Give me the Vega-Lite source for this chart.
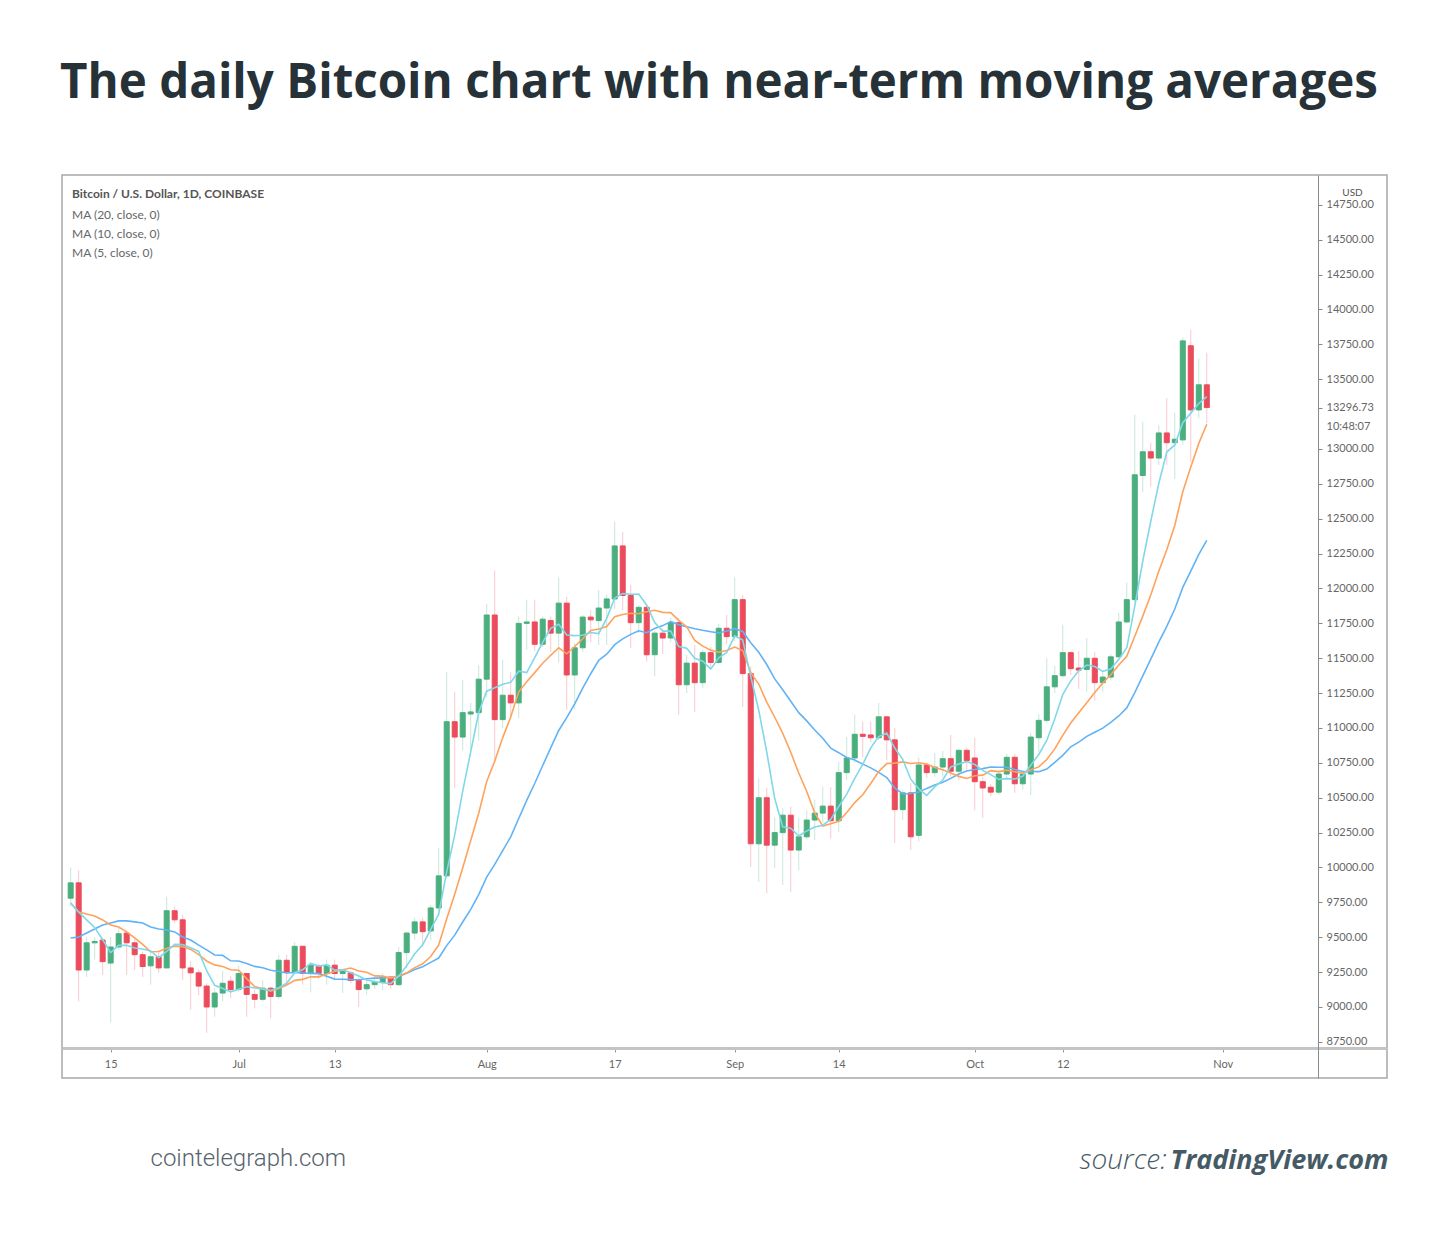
{
  "$schema": "https://vega.github.io/schema/vega-lite/v6.json",
  "description": "The daily Bitcoin chart with near-term moving averages (candles plus MA 5, 10, 20).",
  "width": 1325,
  "height": 903,
  "autosize": {"type": "none"},
  "padding": {"left": 62, "top": 175, "right": 63, "bottom": 160},
  "background": "white",
  "title": {
    "text": "The daily Bitcoin chart with near-term moving averages",
    "anchor": "start",
    "frame": "group",
    "offset": 30,
    "baseline": "alphabetic",
    "dx": -2,
    "font": "Open Sans",
    "fontSize": 47.5,
    "fontWeight": "bold",
    "color": "#263238"
  },
  "data": {
    "values": [
      {"date": "2020-06-10", "open": 9780, "high": 10000, "low": 9720, "close": 9890, "ma5": 9745, "ma10": 9745, "ma20": 9495},
      {"date": "2020-06-11", "open": 9890, "high": 9980, "low": 9040, "close": 9265, "ma5": 9680, "ma10": 9681, "ma20": 9502},
      {"date": "2020-06-12", "open": 9265, "high": 9500, "low": 9215, "close": 9460, "ma5": 9625, "ma10": 9667, "ma20": 9530},
      {"date": "2020-06-13", "open": 9460, "high": 9500, "low": 9340, "close": 9470, "ma5": 9570, "ma10": 9652, "ma20": 9559},
      {"date": "2020-06-14", "open": 9480, "high": 9495, "low": 9230, "close": 9325, "ma5": 9482, "ma10": 9624, "ma20": 9588},
      {"date": "2020-06-15", "open": 9315, "high": 9500, "low": 8890, "close": 9430, "ma5": 9390, "ma10": 9588, "ma20": 9602},
      {"date": "2020-06-16", "open": 9430, "high": 9565, "low": 9410, "close": 9525, "ma5": 9442, "ma10": 9573, "ma20": 9617},
      {"date": "2020-06-17", "open": 9530, "high": 9550, "low": 9230, "close": 9460, "ma5": 9442, "ma10": 9538, "ma20": 9617},
      {"date": "2020-06-18", "open": 9460, "high": 9500, "low": 9265, "close": 9375, "ma5": 9423, "ma10": 9495, "ma20": 9610},
      {"date": "2020-06-19", "open": 9375, "high": 9395, "low": 9215, "close": 9290, "ma5": 9416, "ma10": 9449, "ma20": 9602},
      {"date": "2020-06-20", "open": 9295, "high": 9410, "low": 9160, "close": 9360, "ma5": 9402, "ma10": 9396, "ma20": 9573},
      {"date": "2020-06-21", "open": 9360, "high": 9395, "low": 9245, "close": 9280, "ma5": 9353, "ma10": 9398, "ma20": 9559},
      {"date": "2020-06-22", "open": 9280, "high": 9790, "low": 9280, "close": 9690, "ma5": 9399, "ma10": 9421, "ma20": 9552},
      {"date": "2020-06-23", "open": 9690, "high": 9720, "low": 9600, "close": 9625, "ma5": 9449, "ma10": 9436, "ma20": 9538},
      {"date": "2020-06-24", "open": 9625, "high": 9660, "low": 9195, "close": 9280, "ma5": 9447, "ma10": 9432, "ma20": 9502},
      {"date": "2020-06-25", "open": 9280, "high": 9330, "low": 8980, "close": 9245, "ma5": 9424, "ma10": 9413, "ma20": 9480},
      {"date": "2020-06-26", "open": 9245, "high": 9270, "low": 9085, "close": 9150, "ma5": 9398, "ma10": 9376, "ma20": 9444},
      {"date": "2020-06-27", "open": 9150, "high": 9170, "low": 8815, "close": 9000, "ma5": 9260, "ma10": 9330, "ma20": 9409},
      {"date": "2020-06-28", "open": 9000, "high": 9135, "low": 8930, "close": 9100, "ma5": 9155, "ma10": 9302, "ma20": 9373},
      {"date": "2020-06-29", "open": 9100, "high": 9260, "low": 9040, "close": 9170, "ma5": 9133, "ma10": 9290, "ma20": 9370},
      {"date": "2020-06-30", "open": 9185, "high": 9220, "low": 9065, "close": 9125, "ma5": 9109, "ma10": 9267, "ma20": 9331},
      {"date": "2020-07-01", "open": 9125, "high": 9295, "low": 9110, "close": 9240, "ma5": 9127, "ma10": 9263, "ma20": 9330},
      {"date": "2020-07-02", "open": 9240, "high": 9245, "low": 8930, "close": 9090, "ma5": 9145, "ma10": 9203, "ma20": 9312},
      {"date": "2020-07-03", "open": 9090, "high": 9125, "low": 8990, "close": 9055, "ma5": 9136, "ma10": 9146, "ma20": 9291},
      {"date": "2020-07-04", "open": 9055, "high": 9190, "low": 9040, "close": 9135, "ma5": 9129, "ma10": 9131, "ma20": 9281},
      {"date": "2020-07-05", "open": 9135, "high": 9145, "low": 8920, "close": 9075, "ma5": 9119, "ma10": 9114, "ma20": 9264},
      {"date": "2020-07-06", "open": 9075, "high": 9375, "low": 9055, "close": 9335, "ma5": 9138, "ma10": 9133, "ma20": 9254},
      {"date": "2020-07-07", "open": 9335, "high": 9375, "low": 9160, "close": 9250, "ma5": 9170, "ma10": 9158, "ma20": 9244},
      {"date": "2020-07-08", "open": 9250, "high": 9465, "low": 9245, "close": 9435, "ma5": 9246, "ma10": 9191, "ma20": 9247},
      {"date": "2020-07-09", "open": 9435, "high": 9440, "low": 9160, "close": 9240, "ma5": 9267, "ma10": 9198, "ma20": 9244},
      {"date": "2020-07-10", "open": 9240, "high": 9320, "low": 9105, "close": 9300, "ma5": 9312, "ma10": 9216, "ma20": 9241},
      {"date": "2020-07-11", "open": 9295, "high": 9310, "low": 9200, "close": 9240, "ma5": 9293, "ma10": 9216, "ma20": 9239},
      {"date": "2020-07-12", "open": 9240, "high": 9340, "low": 9160, "close": 9300, "ma5": 9303, "ma10": 9237, "ma20": 9220},
      {"date": "2020-07-13", "open": 9300, "high": 9340, "low": 9200, "close": 9240, "ma5": 9264, "ma10": 9255, "ma20": 9200},
      {"date": "2020-07-14", "open": 9240, "high": 9275, "low": 9100, "close": 9255, "ma5": 9267, "ma10": 9267, "ma20": 9199},
      {"date": "2020-07-15", "open": 9245, "high": 9260, "low": 9170, "close": 9190, "ma5": 9245, "ma10": 9279, "ma20": 9196},
      {"date": "2020-07-16", "open": 9190, "high": 9210, "low": 9000, "close": 9125, "ma5": 9222, "ma10": 9258, "ma20": 9195},
      {"date": "2020-07-17", "open": 9130, "high": 9190, "low": 9090, "close": 9160, "ma5": 9194, "ma10": 9249, "ma20": 9203},
      {"date": "2020-07-18", "open": 9160, "high": 9210, "low": 9130, "close": 9180, "ma5": 9182, "ma10": 9223, "ma20": 9207},
      {"date": "2020-07-19", "open": 9175, "high": 9240, "low": 9120, "close": 9215, "ma5": 9174, "ma10": 9221, "ma20": 9209},
      {"date": "2020-07-20", "open": 9215, "high": 9220, "low": 9130, "close": 9160, "ma5": 9168, "ma10": 9207, "ma20": 9211},
      {"date": "2020-07-21", "open": 9160, "high": 9430, "low": 9150, "close": 9390, "ma5": 9221, "ma10": 9222, "ma20": 9219},
      {"date": "2020-07-22", "open": 9390, "high": 9540, "low": 9280, "close": 9530, "ma5": 9295, "ma10": 9245, "ma20": 9241},
      {"date": "2020-07-23", "open": 9530, "high": 9640, "low": 9480, "close": 9610, "ma5": 9381, "ma10": 9282, "ma20": 9268},
      {"date": "2020-07-24", "open": 9610, "high": 9640, "low": 9430, "close": 9540, "ma5": 9446, "ma10": 9310, "ma20": 9289},
      {"date": "2020-07-25", "open": 9545, "high": 9730, "low": 9480, "close": 9710, "ma5": 9556, "ma10": 9362, "ma20": 9320},
      {"date": "2020-07-26", "open": 9710, "high": 10140, "low": 9650, "close": 9940, "ma5": 9666, "ma10": 9444, "ma20": 9351},
      {"date": "2020-07-27", "open": 9940, "high": 11400, "low": 9920, "close": 11045, "ma5": 9969, "ma10": 9632, "ma20": 9440},
      {"date": "2020-07-28", "open": 11045, "high": 11260, "low": 10570, "close": 10935, "ma5": 10234, "ma10": 9808, "ma20": 9515},
      {"date": "2020-07-29", "open": 10935, "high": 11345, "low": 10840, "close": 11110, "ma5": 10548, "ma10": 9997, "ma20": 9609},
      {"date": "2020-07-30", "open": 11100, "high": 11180, "low": 10850, "close": 11115, "ma5": 10829, "ma10": 10193, "ma20": 9700},
      {"date": "2020-07-31", "open": 11110, "high": 11450, "low": 10910, "close": 11350, "ma5": 11111, "ma10": 10389, "ma20": 9805},
      {"date": "2020-08-01", "open": 11350, "high": 11890, "low": 11220, "close": 11810, "ma5": 11264, "ma10": 10617, "ma20": 9931},
      {"date": "2020-08-02", "open": 11810, "high": 12130, "low": 10750, "close": 11060, "ma5": 11289, "ma10": 10762, "ma20": 10022},
      {"date": "2020-08-03", "open": 11060, "high": 11490, "low": 11000, "close": 11235, "ma5": 11314, "ma10": 10931, "ma20": 10121},
      {"date": "2020-08-04", "open": 11235, "high": 11400, "low": 11080, "close": 11180, "ma5": 11327, "ma10": 11078, "ma20": 10220},
      {"date": "2020-08-05", "open": 11180, "high": 11800, "low": 11070, "close": 11750, "ma5": 11407, "ma10": 11259, "ma20": 10351},
      {"date": "2020-08-06", "open": 11750, "high": 11920, "low": 11560, "close": 11760, "ma5": 11397, "ma10": 11331, "ma20": 10481},
      {"date": "2020-08-07", "open": 11760, "high": 11920, "low": 11550, "close": 11600, "ma5": 11505, "ma10": 11397, "ma20": 10602},
      {"date": "2020-08-08", "open": 11600, "high": 11800, "low": 11580, "close": 11780, "ma5": 11614, "ma10": 11464, "ma20": 10731},
      {"date": "2020-08-09", "open": 11770, "high": 11800, "low": 11545, "close": 11680, "ma5": 11714, "ma10": 11521, "ma20": 10857},
      {"date": "2020-08-10", "open": 11680, "high": 12080, "low": 11470, "close": 11895, "ma5": 11743, "ma10": 11575, "ma20": 10982},
      {"date": "2020-08-11", "open": 11895, "high": 11940, "low": 11130, "close": 11380, "ma5": 11667, "ma10": 11532, "ma20": 11074},
      {"date": "2020-08-12", "open": 11380, "high": 11610, "low": 11130, "close": 11575, "ma5": 11662, "ma10": 11584, "ma20": 11173},
      {"date": "2020-08-13", "open": 11575, "high": 11810, "low": 11545, "close": 11795, "ma5": 11665, "ma10": 11640, "ma20": 11285},
      {"date": "2020-08-14", "open": 11795, "high": 11845, "low": 11615, "close": 11775, "ma5": 11684, "ma10": 11699, "ma20": 11389},
      {"date": "2020-08-15", "open": 11770, "high": 11990, "low": 11595, "close": 11860, "ma5": 11677, "ma10": 11710, "ma20": 11485},
      {"date": "2020-08-16", "open": 11860, "high": 11955, "low": 11595, "close": 11925, "ma5": 11786, "ma10": 11727, "ma20": 11529},
      {"date": "2020-08-17", "open": 11925, "high": 12480, "low": 11855, "close": 12305, "ma5": 11932, "ma10": 11797, "ma20": 11597},
      {"date": "2020-08-18", "open": 12305, "high": 12405, "low": 11845, "close": 11950, "ma5": 11963, "ma10": 11814, "ma20": 11639},
      {"date": "2020-08-19", "open": 11950, "high": 12025, "low": 11575, "close": 11755, "ma5": 11959, "ma10": 11822, "ma20": 11671},
      {"date": "2020-08-20", "open": 11755, "high": 11880, "low": 11680, "close": 11865, "ma5": 11960, "ma10": 11819, "ma20": 11697},
      {"date": "2020-08-21", "open": 11865, "high": 11880, "low": 11475, "close": 11525, "ma5": 11880, "ma10": 11833, "ma20": 11683},
      {"date": "2020-08-22", "open": 11525, "high": 11700, "low": 11370, "close": 11680, "ma5": 11755, "ma10": 11844, "ma20": 11714},
      {"date": "2020-08-23", "open": 11680, "high": 11715, "low": 11530, "close": 11645, "ma5": 11694, "ma10": 11829, "ma20": 11734},
      {"date": "2020-08-24", "open": 11645, "high": 11790, "low": 11615, "close": 11755, "ma5": 11694, "ma10": 11827, "ma20": 11763},
      {"date": "2020-08-25", "open": 11755, "high": 11790, "low": 11095, "close": 11310, "ma5": 11583, "ma10": 11772, "ma20": 11741},
      {"date": "2020-08-26", "open": 11310, "high": 11525, "low": 11250, "close": 11465, "ma5": 11571, "ma10": 11726, "ma20": 11726},
      {"date": "2020-08-27", "open": 11465, "high": 11595, "low": 11115, "close": 11325, "ma5": 11500, "ma10": 11628, "ma20": 11712},
      {"date": "2020-08-28", "open": 11325, "high": 11560, "low": 11285, "close": 11540, "ma5": 11479, "ma10": 11587, "ma20": 11700},
      {"date": "2020-08-29", "open": 11540, "high": 11580, "low": 11430, "close": 11470, "ma5": 11422, "ma10": 11558, "ma20": 11690},
      {"date": "2020-08-30", "open": 11470, "high": 11745, "low": 11460, "close": 11715, "ma5": 11503, "ma10": 11543, "ma20": 11681},
      {"date": "2020-08-31", "open": 11715, "high": 11810, "low": 11600, "close": 11655, "ma5": 11541, "ma10": 11556, "ma20": 11695},
      {"date": "2020-09-01", "open": 11655, "high": 12080, "low": 11620, "close": 11920, "ma5": 11660, "ma10": 11580, "ma20": 11712},
      {"date": "2020-09-02", "open": 11920, "high": 11955, "low": 11150, "close": 11390, "ma5": 11630, "ma10": 11555, "ma20": 11692},
      {"date": "2020-09-03", "open": 11390, "high": 11440, "low": 10005, "close": 10170, "ma5": 11370, "ma10": 11396, "ma20": 11611},
      {"date": "2020-09-04", "open": 10170, "high": 10640, "low": 9895, "close": 10500, "ma5": 11127, "ma10": 11315, "ma20": 11543},
      {"date": "2020-09-05", "open": 10500, "high": 10570, "low": 9815, "close": 10160, "ma5": 10828, "ma10": 11185, "ma20": 11455},
      {"date": "2020-09-06", "open": 10160, "high": 10360, "low": 9995, "close": 10250, "ma5": 10494, "ma10": 11077, "ma20": 11352},
      {"date": "2020-09-07", "open": 10250, "high": 10425, "low": 9875, "close": 10375, "ma5": 10291, "ma10": 10961, "ma20": 11274},
      {"date": "2020-09-08", "open": 10375, "high": 10435, "low": 9825, "close": 10125, "ma5": 10282, "ma10": 10826, "ma20": 11192},
      {"date": "2020-09-09", "open": 10125, "high": 10355, "low": 9980, "close": 10220, "ma5": 10226, "ma10": 10677, "ma20": 11110},
      {"date": "2020-09-10", "open": 10220, "high": 10410, "low": 10200, "close": 10340, "ma5": 10262, "ma10": 10545, "ma20": 11051},
      {"date": "2020-09-11", "open": 10340, "high": 10485, "low": 10195, "close": 10390, "ma5": 10290, "ma10": 10392, "ma20": 10986},
      {"date": "2020-09-12", "open": 10390, "high": 10580, "low": 10320, "close": 10440, "ma5": 10303, "ma10": 10297, "ma20": 10926},
      {"date": "2020-09-13", "open": 10440, "high": 10575, "low": 10210, "close": 10335, "ma5": 10345, "ma10": 10314, "ma20": 10855},
      {"date": "2020-09-14", "open": 10335, "high": 10755, "low": 10255, "close": 10680, "ma5": 10437, "ma10": 10332, "ma20": 10823},
      {"date": "2020-09-15", "open": 10680, "high": 10935, "low": 10625, "close": 10785, "ma5": 10526, "ma10": 10394, "ma20": 10789},
      {"date": "2020-09-16", "open": 10785, "high": 11095, "low": 10750, "close": 10955, "ma5": 10639, "ma10": 10465, "ma20": 10771},
      {"date": "2020-09-17", "open": 10955, "high": 11045, "low": 10790, "close": 10940, "ma5": 10739, "ma10": 10521, "ma20": 10741},
      {"date": "2020-09-18", "open": 10950, "high": 11045, "low": 10900, "close": 10930, "ma5": 10858, "ma10": 10602, "ma20": 10714},
      {"date": "2020-09-19", "open": 10930, "high": 11180, "low": 10915, "close": 11080, "ma5": 10938, "ma10": 10688, "ma20": 10682},
      {"date": "2020-09-20", "open": 11080, "high": 11085, "low": 10770, "close": 10915, "ma5": 10964, "ma10": 10745, "ma20": 10645},
      {"date": "2020-09-21", "open": 10915, "high": 11000, "low": 10175, "close": 10415, "ma5": 10856, "ma10": 10748, "ma20": 10570},
      {"date": "2020-09-22", "open": 10415, "high": 10555, "low": 10340, "close": 10535, "ma5": 10775, "ma10": 10757, "ma20": 10527},
      {"date": "2020-09-23", "open": 10535, "high": 10605, "low": 10125, "close": 10220, "ma5": 10633, "ma10": 10746, "ma20": 10530},
      {"date": "2020-09-24", "open": 10230, "high": 10790, "low": 10185, "close": 10735, "ma5": 10564, "ma10": 10751, "ma20": 10541},
      {"date": "2020-09-25", "open": 10735, "high": 10750, "low": 10640, "close": 10680, "ma5": 10517, "ma10": 10741, "ma20": 10567},
      {"date": "2020-09-26", "open": 10680, "high": 10820, "low": 10650, "close": 10720, "ma5": 10578, "ma10": 10717, "ma20": 10591},
      {"date": "2020-09-27", "open": 10720, "high": 10835, "low": 10650, "close": 10780, "ma5": 10627, "ma10": 10701, "ma20": 10611},
      {"date": "2020-09-28", "open": 10780, "high": 10950, "low": 10650, "close": 10690, "ma5": 10721, "ma10": 10677, "ma20": 10639},
      {"date": "2020-09-29", "open": 10690, "high": 10845, "low": 10625, "close": 10840, "ma5": 10742, "ma10": 10653, "ma20": 10670},
      {"date": "2020-09-30", "open": 10840, "high": 10860, "low": 10700, "close": 10765, "ma5": 10759, "ma10": 10638, "ma20": 10692},
      {"date": "2020-10-01", "open": 10785, "high": 10930, "low": 10410, "close": 10615, "ma5": 10738, "ma10": 10658, "ma20": 10703},
      {"date": "2020-10-02", "open": 10615, "high": 10650, "low": 10355, "close": 10570, "ma5": 10696, "ma10": 10662, "ma20": 10709},
      {"date": "2020-10-03", "open": 10575, "high": 10600, "low": 10510, "close": 10540, "ma5": 10666, "ma10": 10694, "ma20": 10720},
      {"date": "2020-10-04", "open": 10540, "high": 10690, "low": 10520, "close": 10670, "ma5": 10632, "ma10": 10687, "ma20": 10719},
      {"date": "2020-10-05", "open": 10670, "high": 10815, "low": 10630, "close": 10790, "ma5": 10637, "ma10": 10698, "ma20": 10719},
      {"date": "2020-10-06", "open": 10790, "high": 10815, "low": 10535, "close": 10600, "ma5": 10634, "ma10": 10686, "ma20": 10702},
      {"date": "2020-10-07", "open": 10600, "high": 10690, "low": 10560, "close": 10670, "ma5": 10654, "ma10": 10675, "ma20": 10688},
      {"date": "2020-10-08", "open": 10670, "high": 10965, "low": 10520, "close": 10935, "ma5": 10733, "ma10": 10700, "ma20": 10688},
      {"date": "2020-10-09", "open": 10930, "high": 11100, "low": 10830, "close": 11055, "ma5": 10810, "ma10": 10721, "ma20": 10687},
      {"date": "2020-10-10", "open": 11055, "high": 11500, "low": 11035, "close": 11295, "ma5": 10911, "ma10": 10774, "ma20": 10706},
      {"date": "2020-10-11", "open": 11295, "high": 11445, "low": 11250, "close": 11375, "ma5": 11066, "ma10": 10850, "ma20": 10754},
      {"date": "2020-10-12", "open": 11375, "high": 11740, "low": 11365, "close": 11540, "ma5": 11240, "ma10": 10947, "ma20": 10804},
      {"date": "2020-10-13", "open": 11540, "high": 11550, "low": 11380, "close": 11425, "ma5": 11338, "ma10": 11036, "ma20": 10865},
      {"date": "2020-10-14", "open": 11430, "high": 11550, "low": 11280, "close": 11415, "ma5": 11410, "ma10": 11110, "ma20": 10899},
      {"date": "2020-10-15", "open": 11420, "high": 11645, "low": 11260, "close": 11500, "ma5": 11451, "ma10": 11181, "ma20": 10940},
      {"date": "2020-10-16", "open": 11500, "high": 11545, "low": 11195, "close": 11325, "ma5": 11441, "ma10": 11254, "ma20": 10970},
      {"date": "2020-10-17", "open": 11325, "high": 11400, "low": 11260, "close": 11365, "ma5": 11406, "ma10": 11323, "ma20": 10999},
      {"date": "2020-10-18", "open": 11365, "high": 11530, "low": 11340, "close": 11510, "ma5": 11423, "ma10": 11381, "ma20": 11040},
      {"date": "2020-10-19", "open": 11510, "high": 11825, "low": 11500, "close": 11760, "ma5": 11492, "ma10": 11451, "ma20": 11086},
      {"date": "2020-10-20", "open": 11760, "high": 12045, "low": 11750, "close": 11920, "ma5": 11576, "ma10": 11514, "ma20": 11144},
      {"date": "2020-10-21", "open": 11920, "high": 13245, "low": 11900, "close": 12815, "ma5": 11874, "ma10": 11658, "ma20": 11254},
      {"date": "2020-10-22", "open": 12810, "high": 13195, "low": 12690, "close": 12980, "ma5": 12197, "ma10": 11802, "ma20": 11374},
      {"date": "2020-10-23", "open": 12980, "high": 13045, "low": 12730, "close": 12935, "ma5": 12482, "ma10": 11953, "ma20": 11494},
      {"date": "2020-10-24", "open": 12935, "high": 13170, "low": 12885, "close": 13115, "ma5": 12753, "ma10": 12123, "ma20": 11616},
      {"date": "2020-10-25", "open": 13115, "high": 13365, "low": 12885, "close": 13045, "ma5": 12978, "ma10": 12277, "ma20": 11729},
      {"date": "2020-10-26", "open": 13045, "high": 13260, "low": 12785, "close": 13070, "ma5": 13029, "ma10": 12452, "ma20": 11853},
      {"date": "2020-10-27", "open": 13065, "high": 13800, "low": 13030, "close": 13775, "ma5": 13188, "ma10": 12693, "ma20": 12008},
      {"date": "2020-10-28", "open": 13740, "high": 13855, "low": 12905, "close": 13280, "ma5": 13257, "ma10": 12870, "ma20": 12125},
      {"date": "2020-10-29", "open": 13280, "high": 13650, "low": 13220, "close": 13460, "ma5": 13326, "ma10": 13040, "ma20": 12245},
      {"date": "2020-10-30", "open": 13460, "high": 13690, "low": 13185, "close": 13296.73, "ma5": 13376, "ma10": 13177, "ma20": 12345}
    ]
  },
  "resolve": {"axis": {"x": "independent", "y": "independent"}},
  "layer": [
    {
      "mark": {"type": "rule", "strokeWidth": 1, "opacity": 0.3},
      "encoding": {
        "x": {
          "field": "date",
          "type": "temporal",
          "scale": {"type": "utc", "domain": [{"year": 2020, "month": 6, "date": 9, "hours": 13, "utc": true}, {"year": 2020, "month": 11, "date": 20, "hours": 21, "minutes": 36, "utc": true}]},
          "axis": {
            "orient": "bottom",
            "offset": -30,
            "grid": false,
            "values": [
              {"year": 2020, "month": 6, "date": 15, "utc": true},
              {"year": 2020, "month": 7, "date": 1, "utc": true},
              {"year": 2020, "month": 7, "date": 13, "utc": true},
              {"year": 2020, "month": 8, "date": 1, "utc": true},
              {"year": 2020, "month": 8, "date": 17, "utc": true},
              {"year": 2020, "month": 9, "date": 1, "utc": true},
              {"year": 2020, "month": 9, "date": 14, "utc": true},
              {"year": 2020, "month": 10, "date": 1, "utc": true},
              {"year": 2020, "month": 10, "date": 12, "utc": true},
              {"year": 2020, "month": 11, "date": 1, "utc": true}
            ],
            "labelExpr": "utcdate(datum.value) == 1 ? utcFormat(datum.value, '%b') : '' + utcdate(datum.value)",
            "labelFont": "Lato",
            "labelFontSize": 11,
            "labelColor": "#666666",
            "labelPadding": 6,
            "labelOverlap": false,
            "labelFlush": false,
            "tickSize": 4,
            "tickColor": "#999999",
            "domainColor": "#c4c4c4",
            "domainWidth": 3,
            "title": "cointelegraph.com",
            "titleX": 88,
            "titleY": 117,
            "titleAlign": "left",
            "titleBaseline": "alphabetic",
            "titleFont": "Roboto",
            "titleFontSize": 24,
            "titleFontWeight": 300,
            "titleColor": "#56636b"
          }
        },
        "y": {
          "field": "low",
          "type": "quantitative",
          "scale": {"domain": [8491, 14964], "zero": false, "nice": false},
          "axis": {
            "orient": "right",
            "offset": -69,
            "grid": false,
            "values": [8750, 9000, 9250, 9500, 9750, 10000, 10250, 10500, 10750, 11000, 11250, 11500, 11750, 12000, 12250, 12500, 12750, 13000, 13296.73, 13500, 13750, 14000, 14250, 14500, 14750],
            "labelExpr": "datum.value == 13296.73 ? ['13296.73', '10:48:07'] : format(datum.value, '.2f')",
            "labelFont": "Lato",
            "labelFontSize": 11,
            "labelColor": "#666666",
            "labelPadding": 4,
            "labelBaseline": "top",
            "labelOffset": -6,
            "labelLineHeight": 19,
            "labelOverlap": false,
            "labelBound": false,
            "labelFlush": false,
            "tickSize": 4,
            "tickColor": "#888888",
            "domainColor": "#8a8a8a",
            "domainWidth": 1,
            "title": "USD",
            "titleAngle": 0,
            "titleX": 34,
            "titleY": 17,
            "titleAlign": "center",
            "titleBaseline": "middle",
            "titleFont": "Lato",
            "titleFontSize": 10,
            "titleFontWeight": "normal",
            "titleColor": "#555555"
          }
        },
        "y2": {"field": "high"},
        "color": {"condition": {"test": "datum.close >= datum.open", "value": "#4bae7f"}, "value": "#eb4b5b"}
      }
    },
    {
      "mark": {"type": "bar", "size": 5, "strokeWidth": 1},
      "encoding": {
        "x": {"field": "date", "type": "temporal", "scale": {"type": "utc", "domain": [{"year": 2020, "month": 6, "date": 9, "hours": 13, "utc": true}, {"year": 2020, "month": 11, "date": 20, "hours": 21, "minutes": 36, "utc": true}]}, "axis": null},
        "y": {"field": "open", "type": "quantitative", "scale": {"domain": [8491, 14964], "zero": false, "nice": false}, "axis": null},
        "y2": {"field": "close"},
        "color": {"condition": {"test": "datum.close >= datum.open", "value": "#4bae7f"}, "value": "#eb4b5b"},
        "stroke": {"condition": {"test": "datum.close >= datum.open", "value": "#4bae7f"}, "value": "#eb4b5b"}
      }
    },
    {
      "transform": [{"fold": ["ma20", "ma10", "ma5"], "as": ["ma", "value"]}],
      "mark": {"type": "line", "strokeWidth": 1.6, "interpolate": "linear"},
      "encoding": {
        "x": {
          "field": "date",
          "type": "temporal",
          "scale": {"type": "utc", "domain": [{"year": 2020, "month": 6, "date": 9, "hours": 13, "utc": true}, {"year": 2020, "month": 11, "date": 20, "hours": 21, "minutes": 36, "utc": true}]},
          "axis": {
            "orient": "top",
            "labels": false,
            "ticks": false,
            "domain": false,
            "grid": false,
            "title": "source:",
            "titleX": 1104,
            "titleY": 993,
            "titleAlign": "right",
            "titleBaseline": "alphabetic",
            "titleFont": "Open Sans",
            "titleFontSize": 28,
            "titleFontWeight": 300,
            "titleFontStyle": "italic",
            "titleColor": "#455a64"
          }
        },
        "y": {
          "field": "value",
          "type": "quantitative",
          "scale": {"domain": [8491, 14964], "zero": false, "nice": false},
          "axis": {
            "orient": "left",
            "labels": false,
            "ticks": false,
            "domain": false,
            "grid": false,
            "title": "TradingView.com",
            "titleAngle": 0,
            "titleX": 1326,
            "titleY": 993,
            "titleAlign": "right",
            "titleBaseline": "alphabetic",
            "titleFont": "Open Sans",
            "titleFontSize": 27,
            "titleFontWeight": "bold",
            "titleFontStyle": "italic",
            "titleColor": "#455a64"
          }
        },
        "color": {
          "field": "ma",
          "type": "nominal",
          "scale": {"domain": ["ma20", "ma10", "ma5"], "range": ["#62b3f6", "#ffa25c", "#80d8e8"]},
          "legend": {
            "orient": "none",
            "legendX": 10,
            "legendY": 14,
            "title": "Bitcoin / U.S. Dollar, 1D, COINBASE",
            "titleFont": "Lato",
            "titleFontSize": 12,
            "titleFontWeight": "bold",
            "titleColor": "#555555",
            "titleLimit": 400,
            "titlePadding": 4,
            "labelFont": "Lato",
            "labelFontSize": 12,
            "labelColor": "#666666",
            "labelExpr": "'MA (' + slice(datum.label, 2) + ', close, 0)'",
            "labelOffset": -12,
            "symbolSize": 0,
            "symbolStrokeWidth": 0,
            "symbolOpacity": 0,
            "clipHeight": 19,
            "rowPadding": 0,
            "padding": 0
          }
        }
      }
    }
  ],
  "config": {
    "view": {"stroke": "#a8a8a8", "strokeWidth": 1.5},
    "axis": {"labelFont": "Lato", "titleFont": "Lato"}
  }
}
